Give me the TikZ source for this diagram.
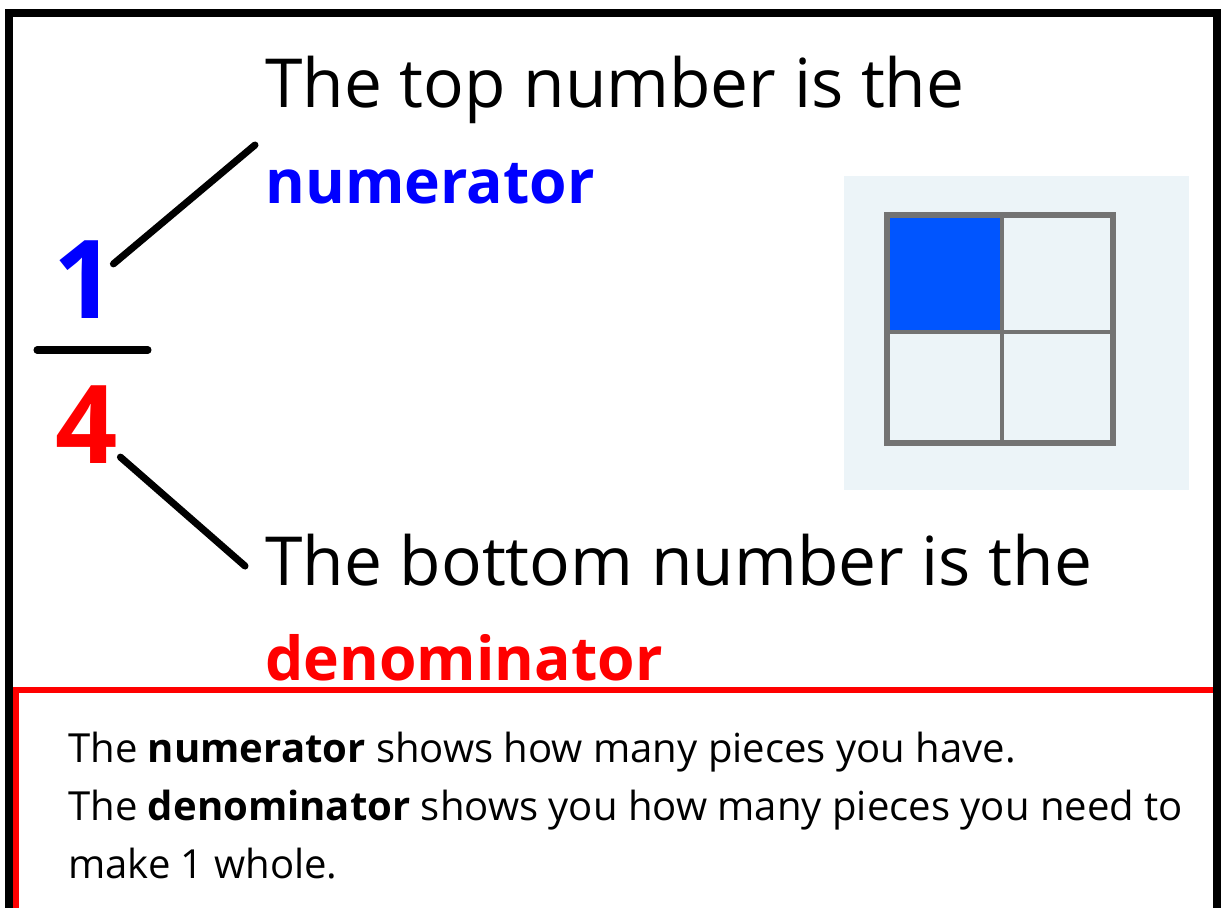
\documentclass[tikz,border=0pt]{standalone}
\usepackage{fontspec}
\setmainfont{Open Sans}
\usepackage{tikz}
\usetikzlibrary{calc,positioning}
\definecolor{numCol}{HTML}{0000FF}
\definecolor{denCol}{HTML}{FF0000}
\definecolor{cellCol}{HTML}{0055FF}
\definecolor{gridBg}{HTML}{ECF4F8}
\definecolor{gridEdge}{HTML}{737373}
\tikzset{
  headline/.style={anchor=base west, inner sep=0pt, font=\fontsize{38.5}{46}\selectfont},
  keyword/.style={anchor=base west, inner sep=0pt, text=#1, font=\fontsize{34.5}{42}\selectfont\bfseries},
  digit/.style={anchor=base, inner sep=0pt, text=#1, font=\fontsize{62}{70}\selectfont\bfseries},
  lead/.style={line width=4pt, line cap=round},
  note/.style={anchor=north west, inner sep=0pt, align=left, font=\fontsize{22.8}{33}\selectfont},
}
\begin{document}
\begin{tikzpicture}[x=0.02cm,y=-0.02cm]
  \useasboundingbox (0,0) rectangle (1221,907);
  \clip (0,0) rectangle (1221,907);
  % fraction
  \node[digit=numCol] (one) at (85,318) {1};
  \node[digit=denCol] (four) at (87,463) {4};
  \coordinate (barL) at (37,350);
  \coordinate (barR) at (148,350);
  \draw[line width=4pt, line cap=round] (barL) -- (barR);
  % labels
  \node[headline] (topTxt) at (265,107) {The top number is the};
  \node[keyword=numCol] (numWord) at (265,203) {numerator};
  \node[headline] (botTxt) at (265,585) {The bottom number is the};
  \node[keyword=denCol] (denWord) at (265,680) {denominator};
  \coordinate (numTip) at (255,145);
  \coordinate (denTip) at (245,566);
  \draw[lead] ($(one.north east)+(-3,24)$) -- (numTip);
  \draw[lead] ($(four.east)+(2,33)$) -- (denTip);
  % quarter square
  \fill[gridBg] (844,176) rectangle (1189,490);
  \fill[cellCol] (887,215) rectangle (1002,332);
  \draw[gridEdge, line width=2.2pt] (1002,215) -- (1002,443) (887,332) -- (1113,332);
  \draw[gridEdge, line width=3.6pt] (887,215) rectangle (1113,443);
  % explanation box
  \draw[denCol, line width=3pt] (16,690) rectangle (1240,960);
  \node[note] (expl) at (68,732)
    {The \textbf{numerator} shows how many pieces you have.\\
     The \textbf{denominator} shows you how many pieces you need to\\
     make 1 whole.};
  \draw[line width=4.5pt] (9,13) rectangle (1217,960);
\end{tikzpicture}
\end{document}
